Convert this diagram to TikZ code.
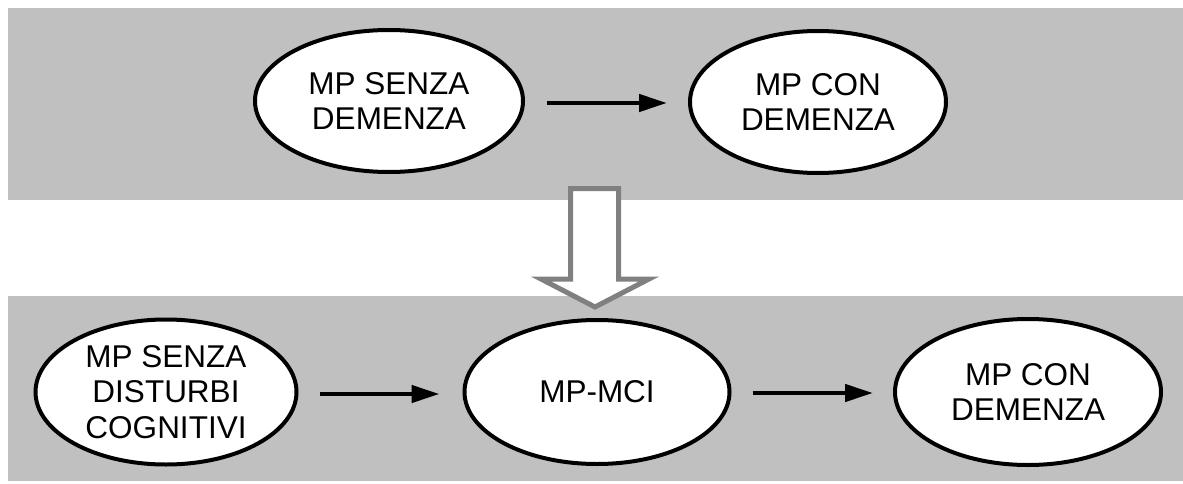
\documentclass[tikz,border=0pt]{standalone}
\usepackage{fontspec}
\setmainfont{Liberation Sans}
\usetikzlibrary{arrows.meta,shapes.geometric}
\definecolor{bandgray}{HTML}{C0C0C0}
\definecolor{blockgray}{HTML}{808080}
\tikzset{
  band/.style={fill=bandgray, draw=none},
  stage/.style={ellipse, draw=black, fill=white, line width=4pt, inner sep=0pt,
    outer sep=0pt, align=center, font=\fontsize{31.5}{35.5}\selectfont},
  flow/.style={line width=4.5pt, -{Triangle[length=28pt,width=17pt]}},
  blockarrow/.style={draw=blockgray, fill=white, line width=5pt, line join=miter}
}
\begin{document}
\begin{tikzpicture}[x=1pt, y=-1pt]
  \useasboundingbox (0,0) rectangle (1183,484);
  % grey background bands
  \fill[band] (8,8) rectangle (1183,200);
  \fill[band] (8,296) rectangle (1183,481);

  % upper model
  \node[stage, minimum width=268pt, minimum height=142pt] (senza) at (389,101)
    {MP SENZA\\DEMENZA};
  \node[stage, minimum width=256pt, minimum height=142pt] (con) at (818,102)
    {MP CON\\DEMENZA};
  \draw[flow, shorten <=24pt, shorten >=23pt] ([yshift=-2pt]senza.east) -- ([yshift=-1pt]con.west);

  % hollow block arrow between the two models
  \draw[blockarrow] (570.5,188.5) -- (618.5,188.5) -- (618.5,279) -- (649,279)
    -- (595,307) -- (541,279) -- (570.5,279) -- cycle;

  % lower model
  \node[stage, minimum width=261pt, minimum height=145pt] (nodist) at (166,392)
    {MP SENZA\\DISTURBI\\COGNITIVI};
  \node[stage, minimum width=265pt, minimum height=144pt] (mci) at (597,392)
    {MP-MCI};
  \node[stage, minimum width=266pt, minimum height=146pt] (dem) at (1028,392)
    {MP CON\\DEMENZA};
  \draw[flow, shorten <=23pt, shorten >=25pt] ([yshift=-2pt]nodist.east) -- ([yshift=-2pt]mci.west);
  \draw[flow, shorten <=23pt, shorten >=22pt] ([yshift=-1pt]mci.east) -- ([yshift=-1pt]dem.west);
\end{tikzpicture}
\end{document}
